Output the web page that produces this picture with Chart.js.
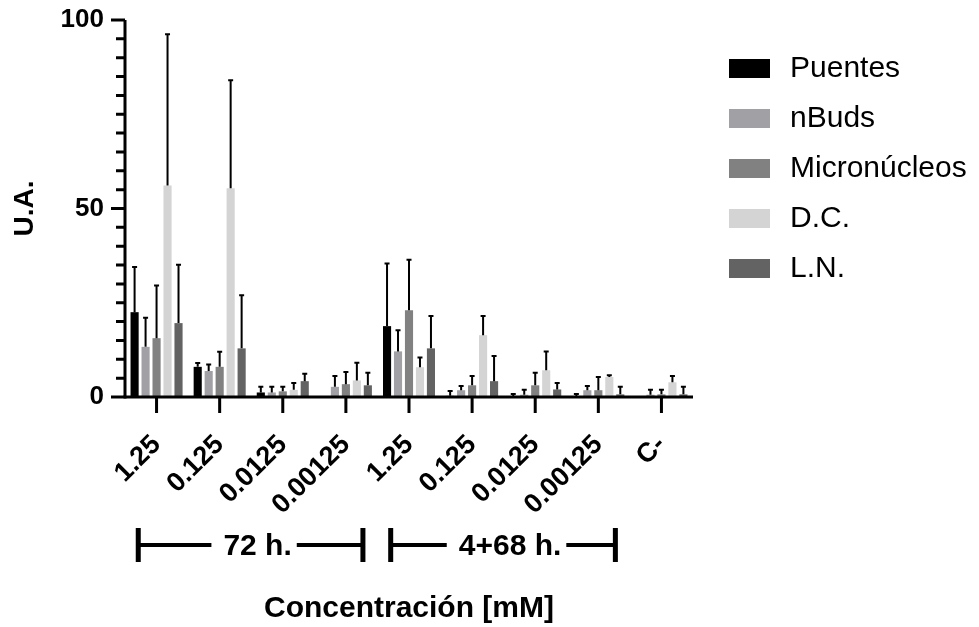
<!DOCTYPE html>
<html>
<head>
<meta charset="utf-8">
<script src="https://cdn.jsdelivr.net/npm/chart.js@4.4.1/dist/chart.umd.min.js"></script>
<style>
  html, body { margin: 0; padding: 0; background: #fff; }
</style>
</head>
<body>
<canvas id="grafico" width="979" height="627"></canvas>
<script>
// Categorías del eje X (concentración en mM)
const categorias = ['1.25', '0.125', '0.0125', '0.00125', '1.25', '0.125', '0.0125', '0.00125', 'C-'];

// Medias por serie
const puentes      = [22.5, 8.0, 1.2, 0,   18.8, 0.3, 0.2, 0.2, 0];
const nBuds        = [13.3, 6.9, 1.2, 2.7, 12.1, 1.8, 0.6, 1.8, 0.6];
const micronucleos = [15.6, 8.0, 1.5, 3.4, 23.0, 3.1, 3.1, 1.8, 0.7];
const dc           = [56.1, 55.4, 1.9, 4.4, 7.9, 16.4, 7.1, 5.3, 3.9];
const ln           = [19.6, 12.9, 4.2, 3.1, 12.9, 4.2, 2.0, 0.7, 0.7];

// Desviaciones (solo se dibuja la parte superior)
const sdPuentes      = [12.0, 1.0, 1.5, 0,   16.6, 1.3, 0.6, 0.6, 0];
const sdNBuds        = [7.7, 1.7, 1.5, 2.9, 5.6, 1.1, 1.3, 1.1, 1.3];
const sdMicronucleos = [14.0, 4.0, 1.2, 3.2, 13.4, 2.5, 3.3, 3.5, 1.2];
const sdDc           = [40.1, 28.6, 1.8, 4.7, 2.6, 5.1, 5.0, 0.5, 1.7];
const sdLn           = [15.5, 14.1, 2.0, 3.3, 8.6, 6.7, 1.7, 2.0, 2.0];

// Grupos de tiempo bajo el eje
const grupos = [
  { texto: '72 h.', desde: 0, hasta: 3 },
  { texto: '4+68 h.', desde: 4, hasta: 7 }
];

const FUENTE = "'Liberation Sans', Arial, Helvetica, sans-serif";
const errores = [sdPuentes, sdNBuds, sdMicronucleos, sdDc, sdLn];

// Barras de error (solo hacia arriba, con remate)
const pluginErrores = {
  id: 'errores',
  afterDatasetsDraw(chart) {
    const ctx = chart.ctx;
    const y = chart.scales.y;
    ctx.save();
    ctx.strokeStyle = '#000';
    ctx.lineWidth = 2;
    chart.data.datasets.forEach((ds, i) => {
      const meta = chart.getDatasetMeta(i);
      meta.data.forEach((barra, j) => {
        const sd = errores[i][j];
        if (!sd) return;
        const yTop = y.getPixelForValue(ds.data[j] + sd);
        ctx.beginPath();
        ctx.moveTo(barra.x, barra.y);
        ctx.lineTo(barra.x, yTop);
        ctx.moveTo(barra.x - 2.5, yTop);
        ctx.lineTo(barra.x + 2.5, yTop);
        ctx.stroke();
      });
    });
    ctx.restore();
  }
};

// Ejes estilo Prism, leyenda y llaves de grupos
const pluginEjes = {
  id: 'ejes',
  afterDraw(chart) {
    const ctx = chart.ctx;
    const area = chart.chartArea;
    const x = chart.scales.x;
    const y = chart.scales.y;
    ctx.save();
    ctx.strokeStyle = '#000';
    ctx.lineWidth = 3;

    // eje Y y marcas
    ctx.beginPath();
    ctx.moveTo(area.left, area.top);
    ctx.lineTo(area.left, area.bottom + 1.5);
    for (let v = 0; v <= 100; v += 5) {
      const py = y.getPixelForValue(v);
      const largo = v % 50 === 0 ? 14 : 9;
      ctx.moveTo(area.left, py);
      ctx.lineTo(area.left - largo, py);
    }
    ctx.stroke();

    // eje X y marcas
    ctx.beginPath();
    ctx.moveTo(area.left - 1.5, area.bottom);
    ctx.lineTo(area.right, area.bottom);
    categorias.forEach((c, i) => {
      const px = x.getPixelForValue(i);
      ctx.moveTo(px, area.bottom);
      ctx.lineTo(px, area.bottom + 16);
    });
    ctx.stroke();

    // llaves de tiempo
    const paso = x.getPixelForValue(1) - x.getPixelForValue(0);
    const yLinea = 545;
    ctx.font = 'bold 30px ' + FUENTE;
    ctx.fillStyle = '#000';
    ctx.textAlign = 'center';
    ctx.textBaseline = 'middle';
    grupos.forEach(g => {
      const izq = x.getPixelForValue(g.desde) - 0.29 * paso;
      const der = x.getPixelForValue(g.hasta) + 0.27 * paso;
      const centro = (izq + der) / 2 + 7;
      const ancho = ctx.measureText(g.texto).width;
      ctx.fillText(g.texto, centro, yLinea + 2);
      ctx.lineWidth = 5;
      ctx.beginPath();
      ctx.moveTo(izq, yLinea - 17);
      ctx.lineTo(izq, yLinea + 17);
      ctx.moveTo(der, yLinea - 17);
      ctx.lineTo(der, yLinea + 17);
      ctx.stroke();
      ctx.lineWidth = 4;
      ctx.beginPath();
      ctx.moveTo(izq, yLinea);
      ctx.lineTo(centro - ancho / 2 - 12, yLinea);
      ctx.moveTo(centro + ancho / 2 + 5, yLinea);
      ctx.lineTo(der, yLinea);
      ctx.stroke();
    });

    // leyenda
    ctx.font = '30px ' + FUENTE;
    ctx.textAlign = 'left';
    chart.data.datasets.forEach((ds, i) => {
      const cy = 68 + i * 50;
      ctx.fillStyle = ds.backgroundColor;
      ctx.fillRect(729, cy - 9, 41, 19);
      ctx.fillStyle = '#000';
      ctx.fillText(ds.label, 790, cy + 1);
    });
    ctx.restore();
  }
};

new Chart(document.getElementById('grafico'), {
  type: 'bar',
  data: {
    labels: categorias,
    datasets: [
      { label: 'Puentes', data: puentes, backgroundColor: '#000000' },
      { label: 'nBuds', data: nBuds, backgroundColor: '#a1a1a5' },
      { label: 'Micronúcleos', data: micronucleos, backgroundColor: '#818181' },
      { label: 'D.C.', data: dc, backgroundColor: '#d4d4d4' },
      { label: 'L.N.', data: ln, backgroundColor: '#636363' }
    ]
  },
  options: {
    responsive: false,
    animation: false,
    events: [],
    categoryPercentage: 0.87,
    barPercentage: 0.74,
    layout: { padding: { top: 20, right: 286, left: 0, bottom: 0 } },
    plugins: {
      legend: { display: false },
      tooltip: { enabled: false }
    },
    scales: {
      x: {
        grid: { display: false, drawTicks: false },
        border: { display: false },
        ticks: {
          autoSkip: false,
          maxRotation: 45,
          minRotation: 45,
          padding: 32,
          color: '#000',
          font: { family: FUENTE, size: 27, weight: 'bold' }
        },
        title: {
          display: true,
          text: 'Concentración [mM]',
          color: '#000',
          padding: { top: 0, bottom: 0 },
          font: { family: FUENTE, size: 30, weight: 'bold' }
        },
        afterFit(scale) { scale.height = 230; }
      },
      y: {
        min: 0,
        max: 100,
        // las marcas se dibujan en el plugin; tickLength solo separa las etiquetas
        grid: { display: false, drawTicks: true, tickLength: 19 },
        border: { display: false },
        ticks: {
          stepSize: 5,
          padding: 2,
          color: '#000',
          font: { family: FUENTE, size: 26, weight: 'bold' },
          callback: v => (v % 50 === 0 ? v : '')
        },
        title: {
          display: true,
          text: 'U.A.',
          color: '#000',
          padding: { top: 8, bottom: 0 },
          font: { family: FUENTE, size: 28, weight: 'bold' }
        },
        afterFit(scale) { scale.width = 125; }
      }
    }
  },
  plugins: [pluginErrores, pluginEjes]
});
</script>
</body>
</html>
